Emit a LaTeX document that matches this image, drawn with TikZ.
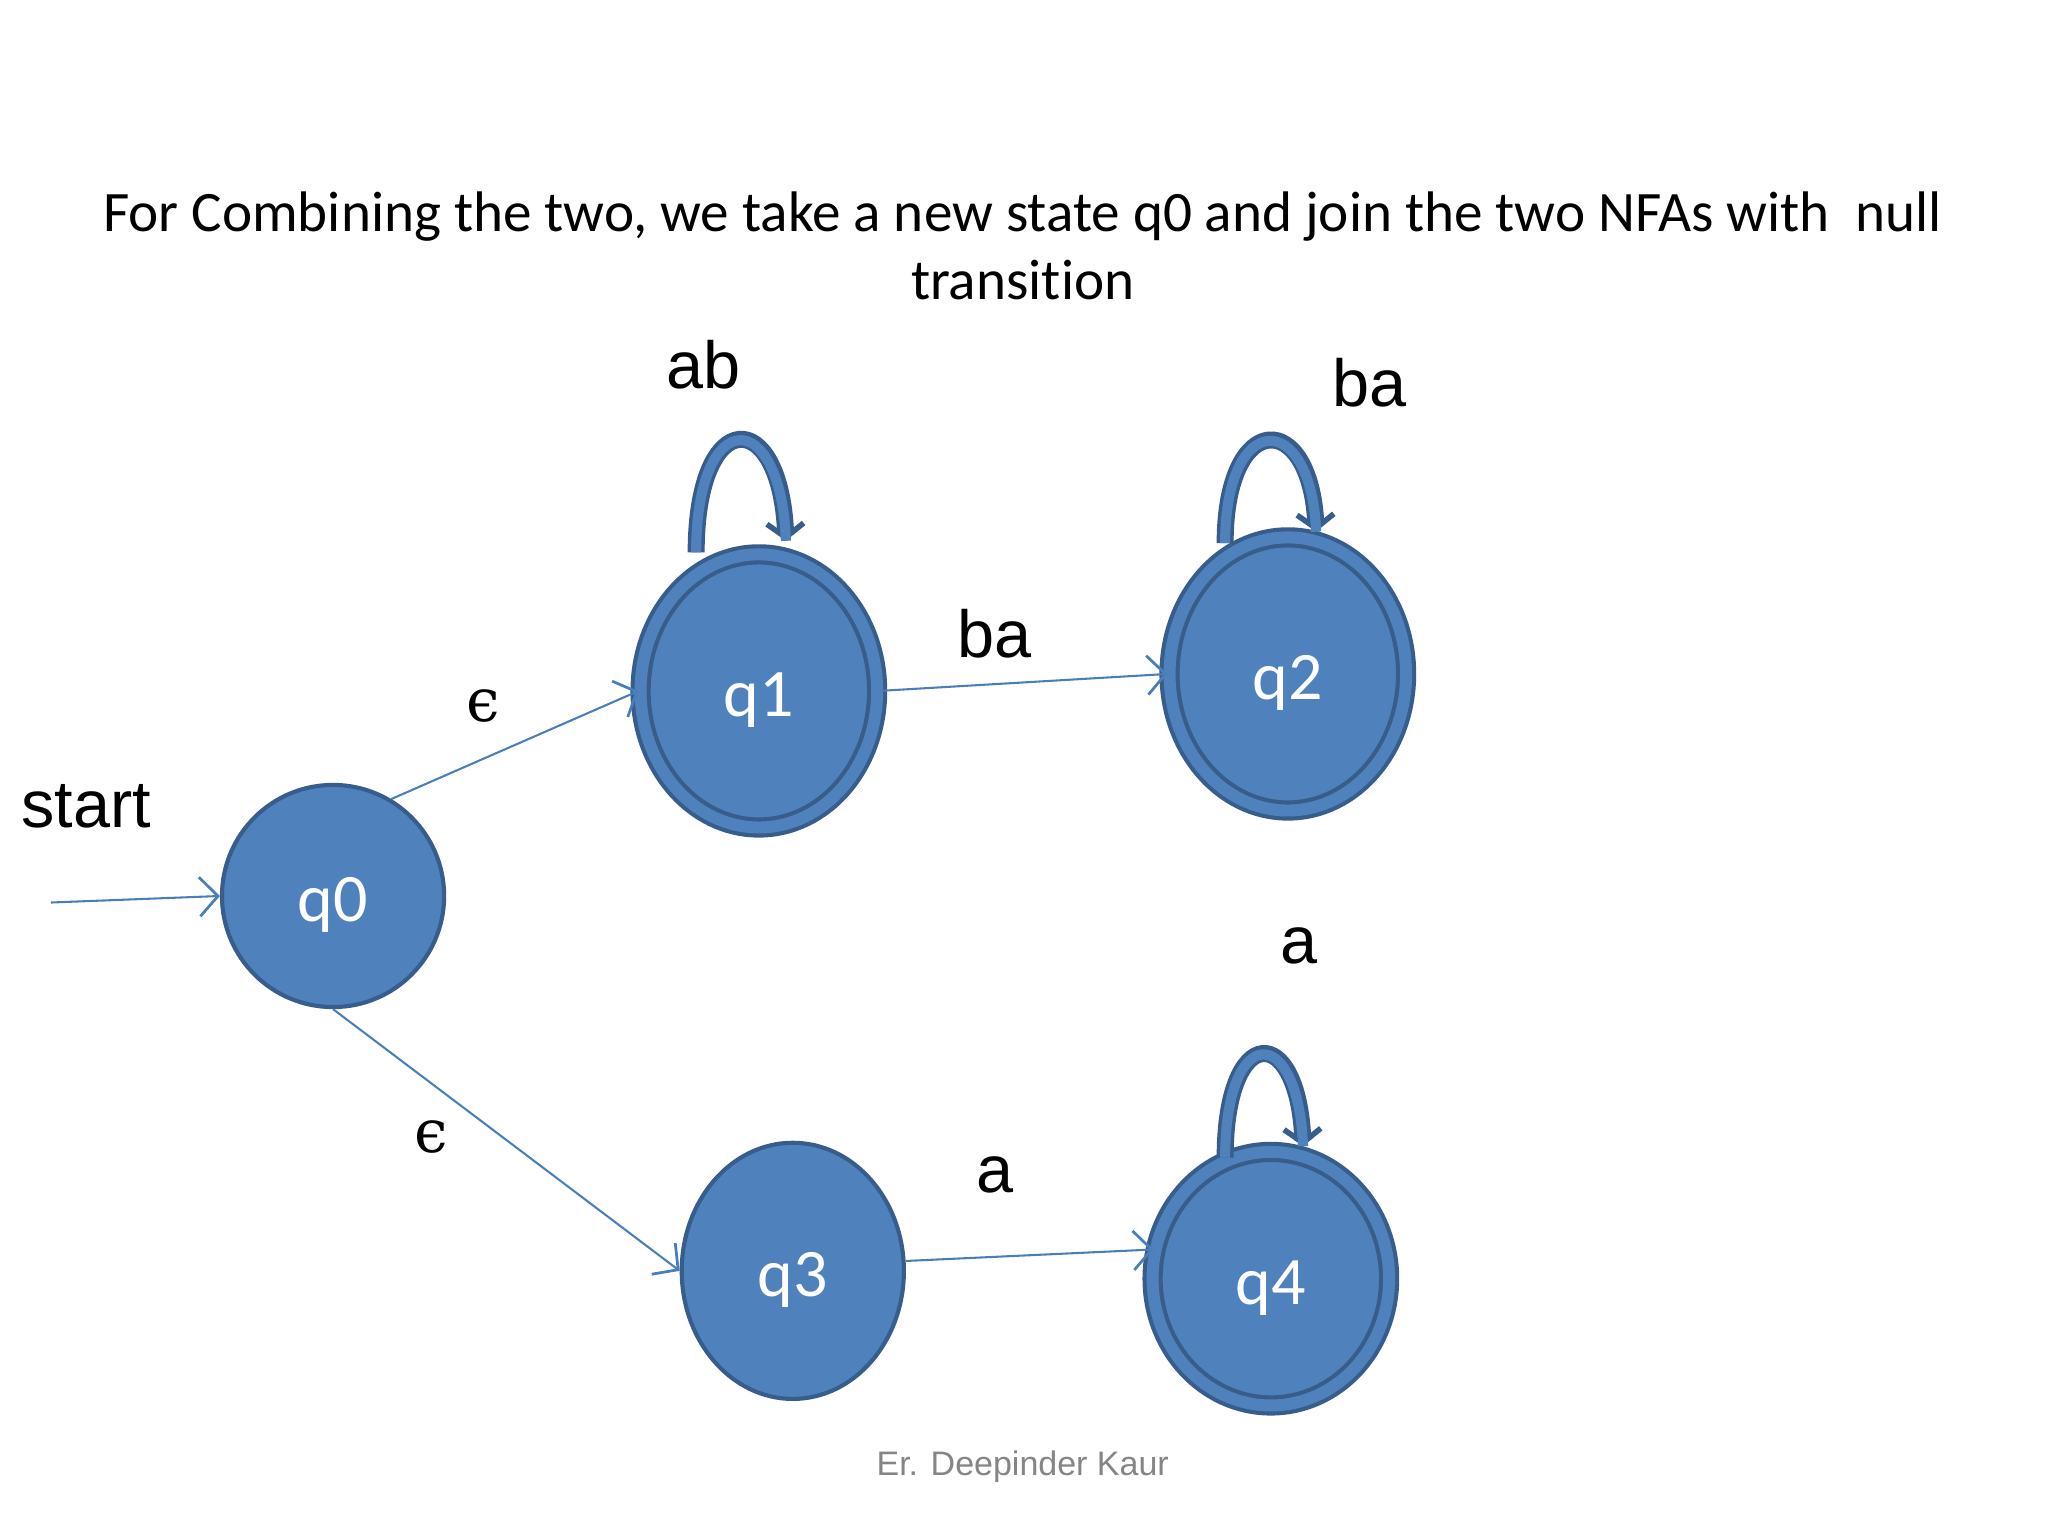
\documentclass[tikz,border=0pt]{standalone}
\usepackage{fontspec}
\setmainfont{Carlito}[Ligatures=NoCommon]
\newfontfamily\arialfont{Liberation Sans}
\newfontfamily\epsfont{DejaVu Serif}
\usepackage{tikz}
\usetikzlibrary{shapes.geometric, arrows.meta, calc}
\definecolor{statefill}{RGB}{79,129,189}
\definecolor{stateline}{RGB}{56,93,138}
\definecolor{edgeblue}{RGB}{74,126,187}
\tikzset{
  state/.style={ellipse, draw=stateline, fill=statefill, line width=0.9pt, inner sep=0pt, text=white, font=\fontsize{14.8}{16}\selectfont, text height=11.3pt, text depth=0pt},
  accepting/.style={state, double=statefill, double distance=2.6pt},
  trans/.style={draw=edgeblue, line width=0.45pt, -{Straight Barb[length=4pt,width=8.5pt,line width=0.6pt]}},
  selfloop/.style={draw=statefill, line width=2.2pt, shorten >=2.5pt, preaction={draw=stateline, line width=3.7pt, -{Straight Barb[length=3pt,width=8pt,line width=1.2pt]}}},
  lbl/.style={font=\arialfont\fontsize{14.5}{16}\selectfont, inner sep=0pt},
  eps/.style={font=\epsfont\fontsize{13}{14}\selectfont, inner sep=0pt}
}
\begin{document}
\begin{tikzpicture}[x=0.01cm, y=-0.01cm]
\useasboundingbox (0,0) rectangle (1568,1176);
% Title
\node[align=center, font=\fontsize{12.45}{14.8}\selectfont] (title) at (783,188) {For Combining the two, we take a new state q0 and join the two NFAs with\ \ null\\transition};

% States
\node[state, minimum width=1.70cm, minimum height=1.70cm] (q0) at (255,686) {q0};
\node[accepting, minimum width=1.81cm, minimum height=2.09cm] (q1) at (581,529) {q1};
\node[accepting, minimum width=1.81cm, minimum height=2.09cm] (q2) at (986,516) {q2};
\node[state, minimum width=1.70cm, minimum height=1.96cm] (q3) at (607,973) {q3};
\node[accepting, minimum width=1.81cm, minimum height=1.94cm] (q4) at (973,979) {q4};

% Start
\node[lbl] (startlbl) at (66,617) {start};
\coordinate (startpt) at (39,691);
\draw[trans] (startpt) -- (q0.west);

% Transitions
\draw[trans] (q0.59) -- node[eps, pos=0.37, above=0.27cm] {ϵ} (q1.180);
\draw[trans] (q1.east) -- node[lbl, pos=0.4, above=0.19cm] {ba} (q2.west);
\draw[trans] (q0.south) -- node[eps, pos=0.49, left=0.41cm] {ϵ} (q3.west);
\draw[trans] (q3.5) -- node[lbl, pos=0.36, above=0.48cm] {a} (q4.166);

% Self loops
\draw[selfloop] (q1.north) ++(-48,0) .. controls +(0,-113) and +(-4,-113) .. +(69,0) node[lbl, pos=0.5, above=0.36cm, xshift=-0.27cm] {ab};
\draw[selfloop] (q2.north) ++(-48,6) .. controls +(0,-103) and +(-4,-103) .. +(70,0) node[lbl, pos=0.5, above=0.23cm, xshift=0.77cm] {ba};
\draw[selfloop] (q4.north) ++(-35,6) .. controls +(0,-104) and +(-4,-104) .. +(60,0) node[lbl, pos=0.5, above=0.66cm, xshift=0.28cm] {a};

% Footer
\node[font=\arialfont\fontsize{7.4}{9}\selectfont, text=black!48] (footer) at (783,1123) {Er. Deepinder Kaur};
\end{tikzpicture}
\end{document}
